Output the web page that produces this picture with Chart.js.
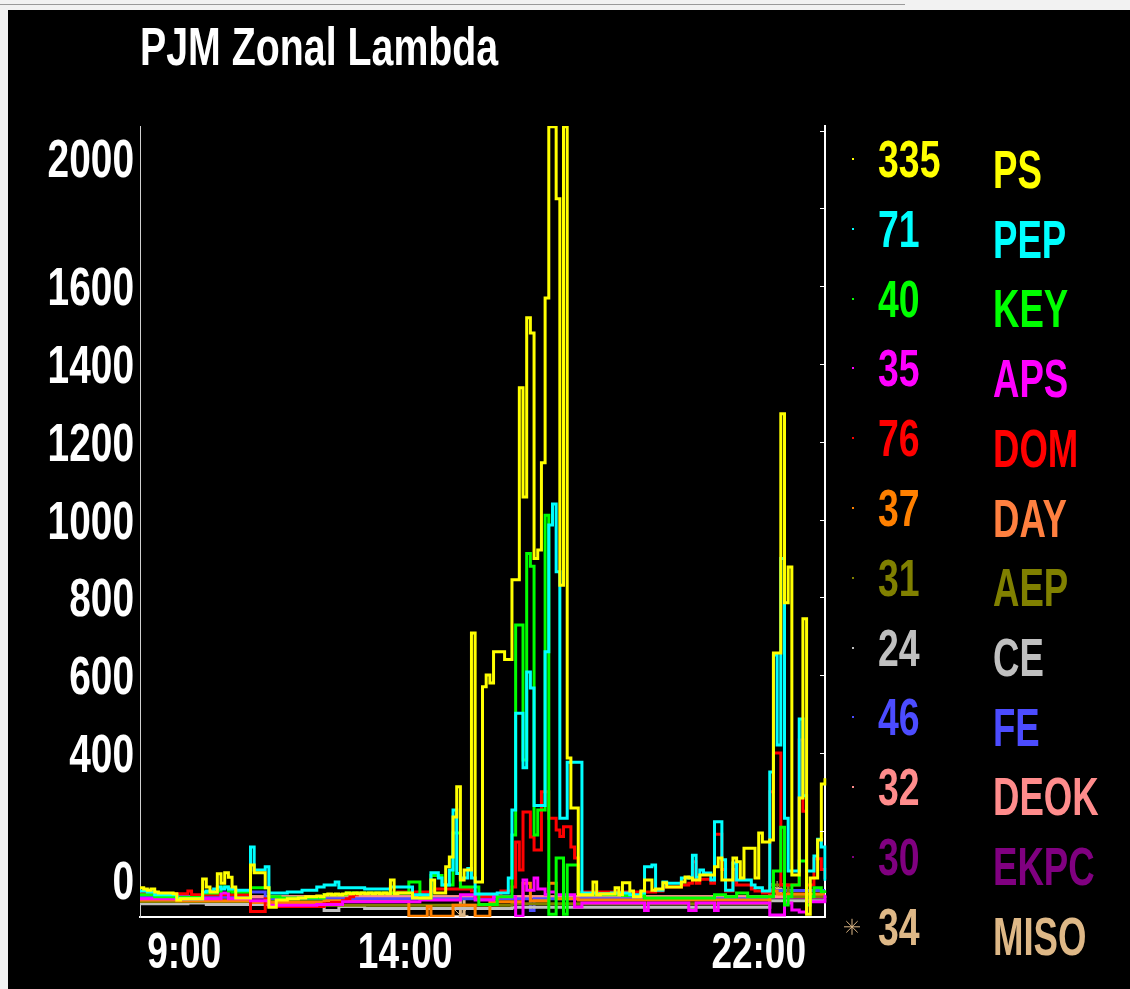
<!DOCTYPE html>
<html>
<head>
<meta charset="utf-8">
<title>PJM Zonal Lambda</title>
<script src="https://cdn.jsdelivr.net/npm/chart.js@4/dist/chart.umd.min.js"></script>
<style>
  html, body { margin: 0; padding: 0; width: 1130px; height: 989px; overflow: hidden; background: #f2f2f2; }
  #topline { position: absolute; left: 0; top: 4px; width: 905px; height: 1px; background: #9a9a9a; }
  #panel { position: absolute; left: 8px; top: 10px; right: 0; bottom: 0; background: #000; }
  #c { position: absolute; left: 0; top: 0; }
</style>
</head>
<body>
<div id="topline"></div>
<div id="panel"></div>
<canvas id="c" width="1130" height="989"></canvas>
<script>
// ---------- data ----------
const titleText = 'PJM Zonal Lambda';
const names = ['PS', 'PEP', 'KEY', 'APS', 'DOM', 'DAY', 'AEP', 'CE', 'FE', 'DEOK', 'EKPC', 'MISO'];
const colors = ['#ffff00', '#00ffff', '#00ff00', '#ff00ff', '#ff0000', '#ff8000', '#808000', '#c0c0c0', '#4c4cff', '#ff8c8c', '#800080', '#deb887'];
const labelColors = ['#ffff00', '#00ffff', '#00ff00', '#ff00ff', '#ff0000', '#ff8040', '#808000', '#c0c0c0', '#4c4cff', '#ff8c8c', '#800080', '#deb887'];
const yTickValues = [0, 400, 600, 800, 1000, 1200, 1400, 1600, 2000];
const rightTickValues = [200, 400, 600, 800, 1000, 1200, 1400, 1600, 1800, 2000];
const xTickLabels = ['9:00', '14:00', '22:00'];
const misoMarkTimes = ['15:15', '22:25'];

// 5-minute slots from 8:00 to 23:30
const times = [];
for (let m = 8 * 60; m <= 23 * 60 + 30; m += 5) {
  times.push(Math.floor(m / 60) + ':' + String(m % 60).padStart(2, '0'));
}

const PS = [53,50,47,50,42,40,40,40,40,38,
 22,25,25,25,25,25,25,76,55,42,
 42,89,65,92,80,55,27,27,27,27,
 112,92,92,92,53,3,3,22,22,22,
 25,25,25,27,27,30,30,30,32,30,
 35,37,35,37,35,37,40,38,40,38,
 40,38,40,38,40,38,40,38,73,38,
 40,40,40,40,27,27,27,27,27,73,
 40,40,40,107,132,235,313,73,99,99,
 708,68,68,570,600,580,660,660,660,640,
 640,845,845,1339,1058,1519,1480,900,922,1146,
 1570,2010,2010,1825,831,2010,387,258,258,35,
 35,35,35,68,35,37,37,37,37,53,
 35,66,66,45,30,30,45,73,73,47,
 50,50,66,55,55,55,55,68,81,78,
 73,73,86,86,86,86,107,130,73,73,
 73,130,120,78,155,155,155,78,194,171,
 171,176,657,657,1272,786,878,86,86,284,
 745,-15,78,78,176,320,335];

const PEP = [45,45,42,42,35,35,35,35,35,35,
 25,25,25,25,25,25,25,42,45,45,
 50,55,50,55,50,50,47,47,47,47,
 158,99,99,99,107,40,40,40,40,40,
 42,42,42,42,47,47,47,47,55,55,
 60,60,60,68,53,53,53,53,53,53,
 53,50,50,50,50,50,50,50,55,55,
 55,55,55,55,35,35,35,35,35,92,
 92,78,60,60,99,253,90,78,78,103,
 78,37,37,37,37,37,37,40,40,40,
 78,253,502,502,362,608,567,265,265,265,
 660,986,1040,866,232,232,376,376,376,376,
 40,40,40,40,38,38,38,38,40,40,
 40,40,40,35,35,35,40,107,107,112,
 47,47,68,65,65,65,65,78,78,80,
 137,80,99,91,91,73,223,223,125,47,
 47,117,73,73,73,73,60,53,53,45,
 45,351,652,420,900,232,96,96,96,487,
 290,96,96,135,178,158,71];

const KEY = [35,35,35,35,30,30,30,30,30,30,
 28,28,28,28,28,28,28,40,40,40,
 40,45,55,55,45,42,42,42,42,42,
 53,53,53,53,53,30,30,30,27,27,
 27,27,27,27,27,27,27,27,27,27,
 35,35,35,35,35,35,40,40,40,40,
 40,40,40,40,40,40,40,40,40,40,
 40,40,40,68,68,68,27,27,27,85,
 85,85,60,60,60,194,194,55,55,55,
 55,55,10,10,10,10,10,30,30,30,
 30,189,729,729,382,913,880,189,253,253,
 1011,-15,-15,130,130,-15,112,112,112,40,
 35,35,35,35,35,35,35,35,35,35,
 35,33,33,33,33,33,33,27,27,27,
 27,27,27,27,27,27,27,27,27,27,
 27,27,27,27,27,27,35,35,35,30,
 30,30,40,40,40,30,30,30,30,30,
 30,30,96,96,209,9,30,60,60,122,
 122,9,30,53,53,43,40];

const APS = [25,25,25,25,25,25,25,25,25,25,
 25,25,25,25,25,25,25,25,25,25,
 25,25,40,40,25,25,25,25,25,25,
 20,20,20,20,20,8,8,8,8,8,
 8,8,8,8,8,8,8,8,10,10,
 10,10,10,10,10,17,17,17,17,17,
 17,17,17,17,17,17,17,17,17,17,
 17,17,17,17,17,17,22,22,22,22,
 22,22,22,22,22,22,22,35,35,35,
 35,22,22,22,22,22,30,30,30,30,
 30,30,-20,-20,73,47,47,78,50,50,
 35,42,42,35,35,35,35,35,4,4,
 14,14,14,14,14,14,14,14,14,14,
 14,14,14,14,14,14,14,-5,14,14,
 14,14,14,14,14,14,14,14,14,-5,
 -5,14,14,14,14,14,-5,14,14,14,
 14,14,14,14,14,14,14,14,14,14,
 14,-17,-17,-17,-17,14,14,-4,-4,-9,
 -9,17,17,17,17,17,35];

const DOM = [38,38,38,38,38,38,38,38,38,38,
 38,38,38,45,35,35,35,35,35,35,
 35,35,35,35,35,35,35,35,35,35,
 -8,-8,-8,-8,25,5,5,5,5,5,
 5,5,5,5,5,5,5,5,5,5,
 12,12,15,15,15,20,25,30,35,40,
 40,40,40,40,40,40,40,40,40,40,
 42,42,42,42,42,42,42,42,42,45,
 50,50,50,50,50,50,50,50,50,50,
 45,30,30,30,30,30,30,30,45,45,
 45,55,171,99,248,248,184,150,150,300,
 300,232,232,202,185,210,210,158,130,40,
 42,42,42,42,42,42,42,42,42,42,
 42,42,42,42,42,42,42,42,42,42,
 45,45,55,55,55,55,55,60,60,65,
 120,65,75,75,75,65,191,191,100,45,
 45,100,60,60,60,60,50,45,45,40,
 40,300,400,400,60,60,60,60,60,433,
 250,60,60,128,128,100,76];

const DAY = [22,22,22,22,22,22,22,22,22,22,
 20,20,20,20,20,20,20,20,20,20,
 20,20,20,20,20,20,20,20,20,20,
 15,15,15,15,15,15,15,15,15,15,
 15,15,15,15,15,15,15,15,15,15,
 20,20,20,20,20,20,20,18,18,18,
 18,18,18,18,18,18,18,18,18,18,
 18,18,18,-20,-20,-20,-20,-20,5,-20,
 -20,-20,-20,-20,-20,8,8,8,8,8,
 8,-20,-20,-20,-20,17,17,17,17,17,
 17,17,17,17,65,65,20,20,20,20,
 20,65,65,25,25,25,25,25,25,22,
 22,22,22,22,22,22,22,22,22,22,
 22,22,22,22,22,22,22,22,22,22,
 22,22,22,22,22,22,22,22,22,22,
 22,22,22,22,22,22,22,22,22,22,
 22,22,22,22,22,22,22,22,22,22,
 22,45,45,37,37,37,37,37,37,37,
 37,37,37,37,37,37,37];

const AEP = [18,18,18,18,18,18,18,18,18,18,
 18,18,18,18,18,18,18,18,18,18,
 18,18,18,18,18,18,18,18,18,18,
 18,18,18,18,18,18,18,18,18,18,
 18,18,18,18,18,18,18,18,18,18,
 8,8,8,8,8,8,8,8,8,8,
 8,8,8,8,8,8,8,8,8,8,
 8,8,8,8,8,8,8,8,8,8,
 8,8,8,8,8,8,8,8,8,8,
 8,8,8,8,8,8,8,8,8,8,
 8,12,12,12,12,12,12,12,12,12,
 12,12,12,12,12,12,12,12,12,12,
 12,12,12,12,12,12,12,12,12,12,
 12,12,12,12,12,12,12,12,12,12,
 12,12,12,12,12,12,12,12,12,12,
 12,12,12,12,12,12,12,12,12,12,
 12,12,12,12,12,12,12,12,12,12,
 12,60,60,60,60,60,31,31,31,31,
 31,31,31,31,31,31,31];

const CE = [12,12,12,12,12,12,12,12,12,12,
 12,12,12,14,14,14,14,14,10,10,
 10,10,10,10,10,10,10,10,10,10,
 10,10,10,10,10,10,10,10,10,10,
 10,10,10,10,10,10,10,10,10,10,
 -5,-5,-5,-5,5,5,5,5,5,5,
 5,0,0,0,0,0,0,0,0,0,
 0,0,0,0,0,0,0,0,0,0,
 0,0,0,0,0,0,0,0,0,0,
 0,0,0,0,0,0,0,0,0,0,
 0,3,3,3,3,3,3,3,3,3,
 3,3,3,3,3,3,3,3,3,3,
 3,3,3,3,3,3,3,3,3,3,
 3,3,3,3,3,3,3,3,3,3,
 3,3,3,3,3,3,3,3,3,3,
 3,3,3,3,3,3,3,3,3,3,
 3,3,3,3,3,3,3,3,3,3,
 3,20,20,20,20,20,20,20,20,20,
 20,20,20,20,20,20,24];

const FE = [30,30,30,30,30,30,30,30,30,30,
 30,30,30,30,30,30,30,30,30,30,
 30,30,30,30,30,30,30,30,30,30,
 42,42,42,42,25,25,25,25,25,25,
 25,25,25,25,25,25,25,25,25,25,
 25,25,25,25,25,25,25,25,25,25,
 25,25,25,25,25,25,25,25,25,25,
 25,25,25,25,25,25,25,25,25,25,
 25,25,25,25,25,25,25,25,25,25,
 25,25,25,25,25,25,25,25,25,25,
 25,25,25,25,25,25,-5,25,25,25,
 25,25,25,25,25,25,25,25,25,25,
 25,25,25,25,25,25,25,25,25,25,
 25,25,25,25,25,25,25,25,25,25,
 25,25,25,25,25,25,25,25,25,25,
 25,25,25,25,25,25,25,25,25,25,
 25,25,25,25,25,25,25,25,25,25,
 25,46,46,46,46,46,46,46,46,46,
 46,46,46,46,46,46,46];

const DEOK = [30,30,30,30,30,30,30,30,30,30,
 30,30,30,30,30,30,30,30,30,30,
 30,30,30,30,30,30,30,30,30,30,
 30,30,30,30,30,30,30,30,30,30,
 30,30,30,30,30,30,30,30,30,30,
 30,30,30,30,30,30,30,30,30,30,
 30,30,30,30,30,30,30,30,30,30,
 30,30,30,30,30,30,30,30,30,30,
 30,30,30,30,30,30,30,30,30,30,
 30,30,30,30,30,30,30,30,30,30,
 30,30,30,30,30,30,30,30,30,30,
 30,30,30,30,30,30,30,30,30,30,
 30,30,30,30,30,30,30,30,30,30,
 30,30,30,30,30,30,30,30,30,30,
 30,30,30,30,30,30,30,30,30,30,
 30,30,30,30,30,30,30,30,30,30,
 30,30,30,30,30,30,30,30,30,30,
 30,30,30,30,30,30,30,30,30,30,
 30,30,30,30,30,30,32];

const EKPC = [28,28,28,28,28,28,28,28,28,28,
 28,28,28,28,28,28,28,28,28,28,
 28,28,28,28,28,28,28,28,28,28,
 28,28,28,28,28,28,28,28,28,28,
 28,28,28,28,28,28,28,28,28,28,
 28,28,28,28,28,28,28,28,28,28,
 28,28,28,28,28,28,28,28,28,28,
 28,28,28,28,28,28,28,28,28,28,
 28,28,28,28,28,28,28,28,28,28,
 28,28,28,28,28,28,28,28,28,28,
 28,28,28,28,28,28,28,28,28,28,
 28,28,28,28,28,28,28,28,28,28,
 28,28,28,28,28,28,28,28,28,28,
 28,28,28,28,28,28,28,28,28,28,
 28,28,28,28,28,28,28,28,28,28,
 28,28,28,28,28,28,28,28,28,28,
 28,28,28,28,28,28,28,28,28,28,
 28,28,28,28,28,28,28,28,28,28,
 28,28,28,28,28,28,30];

const MISO = [30,30,30,30,30,30,30,30,30,30,
 30,30,30,30,30,30,30,30,30,30,
 30,30,30,30,30,30,30,30,30,30,
 30,30,30,30,30,30,30,30,30,30,
 30,30,30,30,30,30,30,30,30,30,
 30,30,30,30,30,30,30,30,30,30,
 30,30,30,30,30,30,30,30,30,30,
 30,30,30,30,30,30,30,30,30,30,
 30,30,30,30,30,30,30,-18,30,30,
 30,30,30,30,30,30,30,30,30,30,
 30,30,30,30,30,30,30,30,30,30,
 30,30,30,30,30,30,30,30,30,30,
 30,30,30,30,30,30,30,30,30,30,
 30,30,30,30,30,30,30,30,30,30,
 30,30,30,30,30,30,30,30,30,30,
 30,30,30,30,30,30,30,30,30,30,
 30,30,30,30,30,30,30,30,30,30,
 30,30,30,50,30,30,30,30,30,30,
 30,30,30,30,30,30,34];

const series = [PS, PEP, KEY, APS, DOM, DAY, AEP, CE, FE, DEOK, EKPC, MISO];

// ---------- drawing helpers ----------
function txt(ctx, s, x, y, size, color, align, sx) {
  ctx.save();
  ctx.font = 'bold ' + size + 'px "Liberation Sans", Arial, sans-serif';
  ctx.fillStyle = color;
  ctx.textAlign = align;
  ctx.textBaseline = 'alphabetic';
  ctx.translate(x, y);
  ctx.scale(sx, 1);
  ctx.fillText(s, 0, 0);
  ctx.restore();
}

function asterisk(ctx, x, y, r, color) {
  ctx.save();
  ctx.strokeStyle = color;
  ctx.lineWidth = 1;
  ctx.beginPath();
  for (let k = 0; k < 4; k++) {
    const ang = k * Math.PI / 4;
    ctx.moveTo(x - r * Math.cos(ang), y - r * Math.sin(ang));
    ctx.lineTo(x + r * Math.cos(ang), y + r * Math.sin(ang));
  }
  ctx.stroke();
  ctx.restore();
}

const overlay = {
  id: 'overlay',
  afterDraw(chart) {
    const ctx = chart.ctx, a = chart.chartArea;
    const ys = chart.scales.y, xs = chart.scales.x;
    // title
    txt(ctx, titleText, a.left, 65, 54, '#ffffff', 'left', 0.728);
    // y tick labels (kept inside the plot's vertical span)
    yTickValues.forEach(v => {
      let c = ys.getPixelForValue(v);
      c = Math.min(Math.max(c, a.top + 32), a.bottom - 37);
      txt(ctx, String(v), a.left - 6, c + 19, 54, '#ffffff', 'right', 0.72);
    });
    // small inner ticks on the right axis
    ctx.save();
    ctx.strokeStyle = '#ffffff';
    ctx.lineWidth = 1;
    rightTickValues.forEach(v => {
      const p = Math.round(ys.getPixelForValue(v)) + 0.5;
      ctx.beginPath();
      ctx.moveTo(a.right - 5, p);
      ctx.lineTo(a.right, p);
      ctx.stroke();
    });
    ctx.restore();
    // x tick labels
    xTickLabels.forEach(l => {
      const i = times.indexOf(l);
      txt(ctx, l, xs.getPixelForValue(i), 968, 50, '#ffffff', 'center', 0.74);
    });
    // legend: last value + name
    names.forEach((n, k) => {
      const vb = 177 + k * 69.8;
      const nb = 188 + k * 69.7;
      const d = series[k];
      txt(ctx, String(d[d.length - 1]), 878, vb, 52, colors[k], 'left', 0.72);
      txt(ctx, n, 993, nb, 53, labelColors[k], 'left', 0.69);
      if (n === 'MISO') {
        asterisk(ctx, 852, vb - 18, 8, colors[k]);
      } else {
        ctx.fillStyle = colors[k];
        ctx.fillRect(852, Math.round(vb - 19), 2, 2);
      }
    });
  }
};

const datasets = series.map((d, k) => ({
  label: names[k],
  data: d,
  borderColor: colors[k],
  backgroundColor: colors[k],
  borderWidth: 3,
  stepped: true,
  tension: 0,
  fill: false,
  pointRadius: names[k] === 'MISO'
    ? (c => misoMarkTimes.includes(times[c.dataIndex]) ? 8 : 0)
    : 0,
  pointStyle: 'star',
  pointBorderColor: colors[k],
  pointBorderWidth: 1,
  pointHoverRadius: 0
}));

new Chart(document.getElementById('c'), {
  type: 'line',
  data: { labels: times, datasets: datasets },
  options: {
    responsive: false,
    animation: false,
    devicePixelRatio: 1,
    layout: { padding: { left: 0, top: 126, right: 305, bottom: 0 } },
    plugins: { legend: { display: false }, tooltip: { enabled: false }, title: { display: false } },
    events: [],
    scales: {
      x: {
        type: 'category',
        offset: false,
        grid: { display: false },
        ticks: { display: false },
        border: { display: true, color: '#ffffff', width: 2 },
        afterFit: s => { s.height = 72; }
      },
      y: {
        position: 'left',
        min: -22,
        max: 2012,
        grid: { display: false },
        ticks: { display: false },
        border: { display: true, color: '#d0d0d0', width: 1 },
        afterFit: s => { s.width = 140; }
      },
      y2: {
        position: 'right',
        min: -22,
        max: 2012,
        grid: { display: false },
        ticks: { display: false },
        border: { display: true, color: '#ffffff', width: 2 },
        afterFit: s => { s.width = 0; }
      }
    }
  },
  plugins: [overlay]
});
</script>
</body>
</html>
